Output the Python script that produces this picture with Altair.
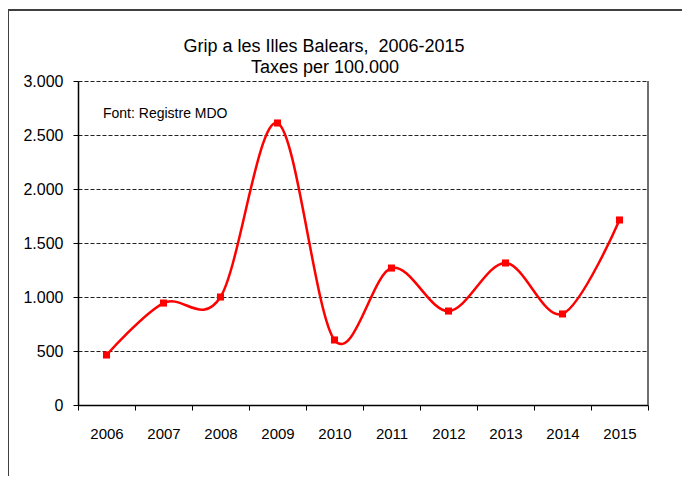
import altair as alt
import pandas as pd

years = ["2006", "2007", "2008", "2009", "2010", "2011", "2012", "2013", "2014", "2015"]
rates = [463, 944, 1000, 2611, 602, 1268, 870, 1315, 843, 1713]
title_lines = ["Grip a les Illes Balears,\u00a0 2006-2015", "Taxes per 100.000"]
source_note = "Font: Registre MDO"

df = pd.DataFrame({"year": years, "rate": rates})
one = pd.DataFrame({"k": [0]})

W, H = 570, 324
FONT = "Liberation Sans"

x_enc = alt.X(
    "year:O",
    sort=years,
    scale=alt.Scale(type="band", paddingInner=0, paddingOuter=0),
    axis=alt.Axis(
        title=None, labelAngle=0, tickBand="extent", grid=False,
        domainColor="#000000", domainWidth=1.5, tickColor="#000000",
        tickSize=5, tickWidth=1, labelFontSize=15, labelPadding=16,
        labelColor="#000000", labelFont=FONT,
    ),
)
y_enc = alt.Y(
    "rate:Q",
    scale=alt.Scale(domain=[0, 3000], nice=False),
    axis=alt.Axis(
        title=None, values=[0, 500, 1000, 1500, 2000, 2500, 3000],
        labelExpr="replace(format(datum.value, ',d'), ',', '.')",
        grid=True, gridDash=[4, 2], gridColor="#222222", gridWidth=1, gridOpacity=1,
        domainColor="#000000", domainWidth=1.5, tickColor="#000000",
        tickSize=5, labelFontSize=16, labelPadding=10,
        labelColor="#000000", labelFont=FONT,
    ),
)

line = alt.Chart(df).mark_line(
    color="#FF0000", strokeWidth=2.5, interpolate="cardinal", tension=0
).encode(x=x_enc, y=y_enc)

pts = alt.Chart(df).mark_point(
    shape="square", filled=True, color="#FF0000", size=50, opacity=1
).encode(x=alt.X("year:O", sort=years), y="rate:Q")

right_border = alt.Chart(one).mark_rule(color="#404040", strokeWidth=1.5).encode(
    x=alt.value(W), y=alt.value(0), y2=alt.value(H)
)
frame_left = alt.Chart(one).mark_rule(color="#404040", strokeWidth=2).encode(
    x=alt.value(-70), y=alt.value(-71), y2=alt.value(500)
)
frame_top = alt.Chart(one).mark_rule(color="#404040", strokeWidth=2).encode(
    y=alt.value(-71), x=alt.value(-70), x2=alt.value(700)
)

t1 = alt.Chart(one).mark_text(
    text=title_lines[0], font=FONT, fontSize=18, color="#000000", align="center", baseline="alphabetic"
).encode(x=alt.value(246), y=alt.value(-29))
t2 = alt.Chart(one).mark_text(
    text=title_lines[1], font=FONT, fontSize=18, color="#000000", align="center", baseline="alphabetic"
).encode(x=alt.value(247), y=alt.value(-8))
note = alt.Chart(one).mark_text(
    text=source_note, font=FONT, fontSize=14, color="#000000", align="left", baseline="alphabetic"
).encode(x=alt.value(25), y=alt.value(37))

chart = alt.layer(
    line, pts, right_border, frame_left, frame_top, t1, t2, note
).properties(
    width=W, height=H,
    autosize=alt.AutoSizeParams(type="none"),
    padding={"left": 70, "top": 73, "right": 34, "bottom": 71},
    background="#FFFFFF",
).configure_view(stroke=None)

chart.save("out.html", embed_options={"renderer": "svg", "actions": False})
